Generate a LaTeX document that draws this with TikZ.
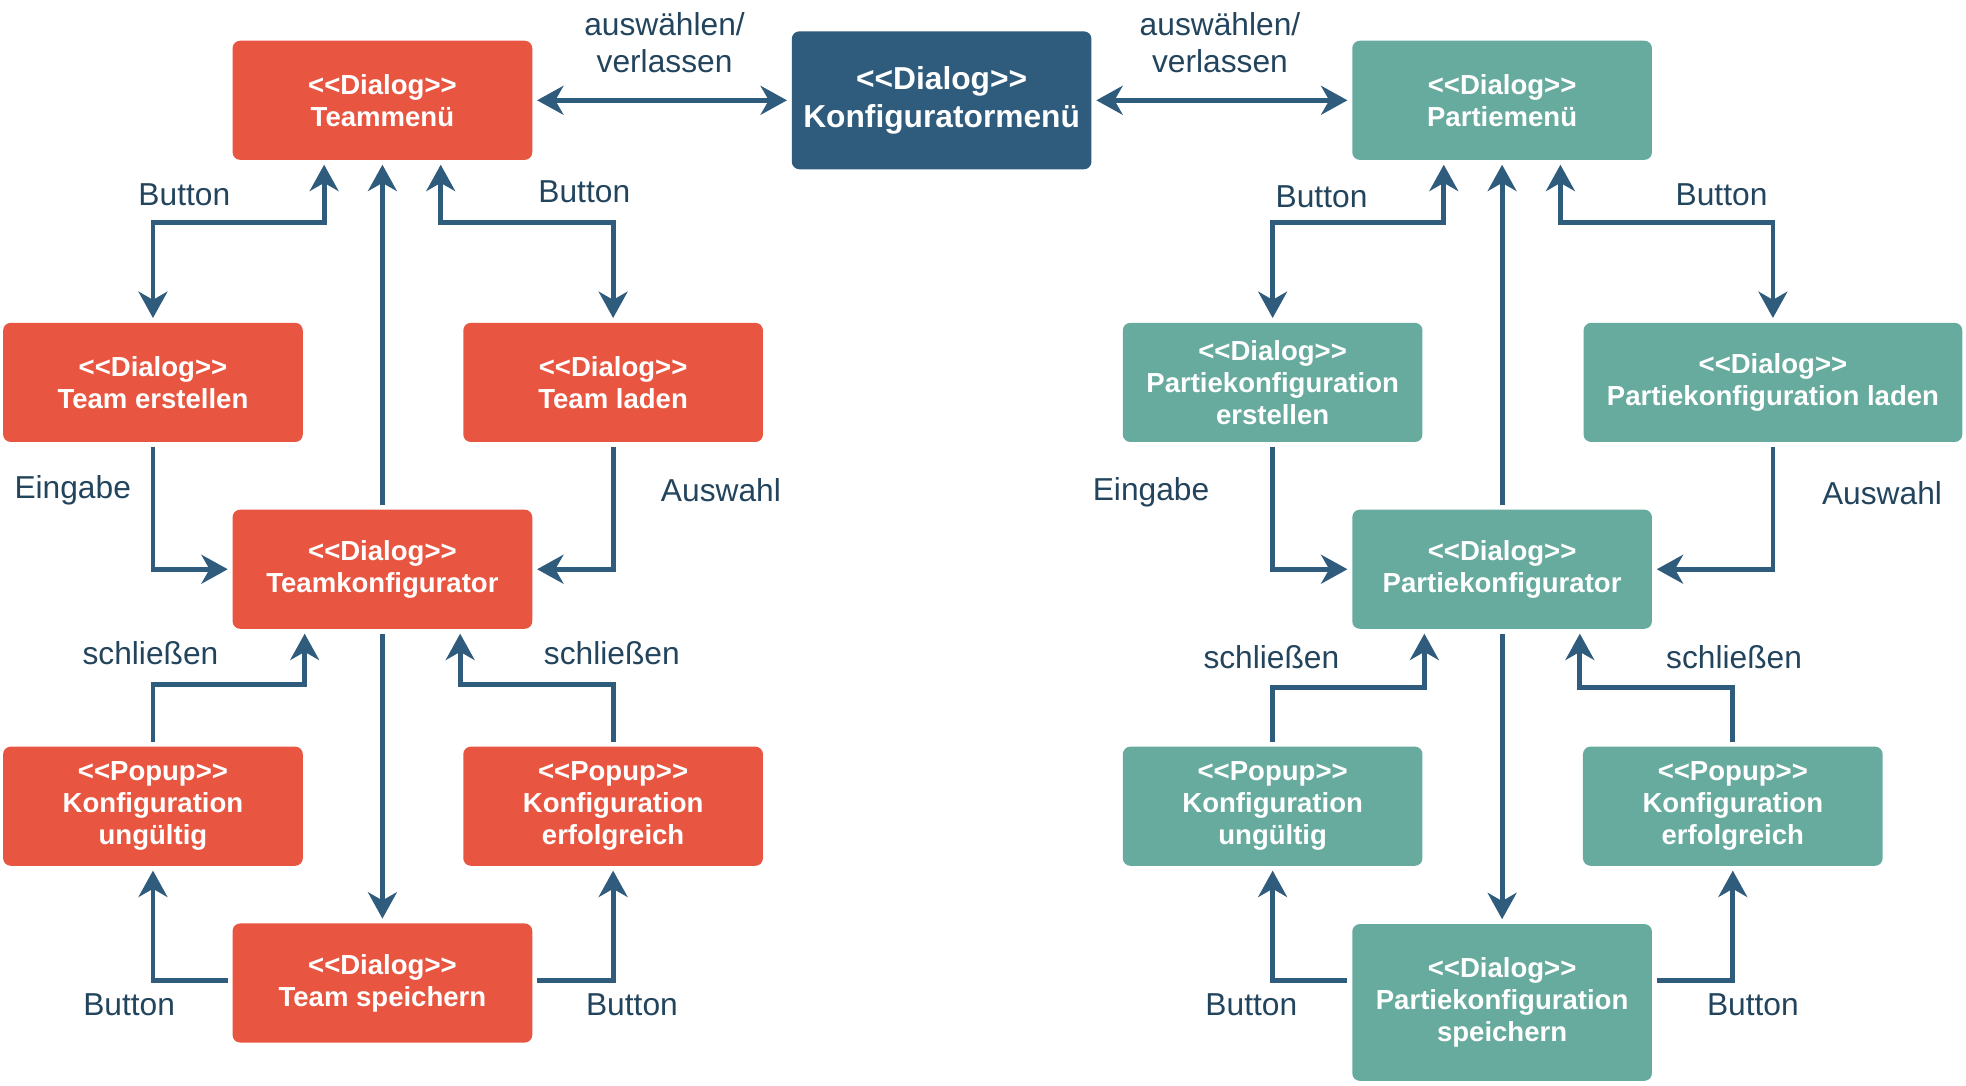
\documentclass[tikz,border=0pt]{standalone}
\usepackage{fontspec}
\setmainfont{Liberation Sans}[Ligatures=TeXOff]
\usetikzlibrary{arrows.meta}

\definecolor{teamred}{HTML}{E85641}
\definecolor{partieteal}{HTML}{67AB9F}
\definecolor{menublue}{HTML}{2F5B7C}
\definecolor{linkblue}{HTML}{2F5B7C}
\definecolor{labelblue}{HTML}{23445D}

\tikzset{
    box/.style={rectangle, rounded corners=0.12cm, minimum width=4.78cm, minimum height=1.9cm,
        align=center, text=white, font=\fontsize{12.5}{14.5}\selectfont\bfseries, inner sep=2pt},
    teambox/.style={box, fill=teamred},
    partiebox/.style={box, fill=partieteal},
    menubox/.style={box, fill=menublue, minimum height=2.2cm, font=\fontsize{14.4}{17}\selectfont\bfseries},
    lbl/.style={text=labelblue, align=center, font=\fontsize{14.4}{16.5}\selectfont},
    link/.style={draw=linkblue, line width=2.2pt, shorten <=2pt, shorten >=2pt,
        -{Stealth[length=0.42cm,width=0.46cm,inset=0.13cm]}},
    dlink/.style={link, {Stealth[length=0.42cm,width=0.46cm,inset=0.13cm]}-{Stealth[length=0.42cm,width=0.46cm,inset=0.13cm]}}
}

\begin{document}
\begin{tikzpicture}

    \useasboundingbox (0,0) rectangle (31.36,-17.32);

    % Menus
    \node[teambox] (tmenu) at (6.10,-1.60) {<<Dialog>>\\Teammenü};
    \node[menubox] (kmenu) at (15.02,-1.60) {<<Dialog>>\\Konfiguratormenü};
    \node[partiebox] (pmenu) at (23.96,-1.60) {<<Dialog>>\\Partiemenü};

    % Team dialogs
    \node[teambox] (terst) at (2.44,-6.10) {<<Dialog>>\\Team erstellen};
    \node[teambox] (tlad) at (9.78,-6.10) {<<Dialog>>\\Team laden};
    \node[teambox] (tkonf) at (6.10,-9.08) {<<Dialog>>\\Teamkonfigurator};
    \node[teambox] (tung) at (2.44,-12.86) {<<Popup>>\\Konfiguration\\ungültig};
    \node[teambox] (terf) at (9.78,-12.86) {<<Popup>>\\Konfiguration\\erfolgreich};
    \node[teambox] (tspei) at (6.10,-15.68) {<<Dialog>>\\Team speichern};

    % Partie dialogs
    \node[partiebox] (perst) at (20.30,-6.10) {<<Dialog>>\\Partiekonfiguration\\erstellen};
    \node[partiebox, minimum width=6.04cm] (plad) at (28.28,-6.10) {<<Dialog>>\\Partiekonfiguration laden};
    \node[partiebox] (pkonf) at (23.96,-9.08) {<<Dialog>>\\Partiekonfigurator};
    \node[partiebox] (pung) at (20.30,-12.86) {<<Popup>>\\Konfiguration\\ungültig};
    \node[partiebox] (perf) at (27.64,-12.86) {<<Popup>>\\Konfiguration\\erfolgreich};
    \node[partiebox, minimum height=2.5cm] (pspei) at (23.96,-15.99) {<<Dialog>>\\Partiekonfiguration\\speichern};

    % Switching between menus
    \draw[dlink] (tmenu.east) -- (kmenu.west);
    \draw[dlink] (kmenu.east) -- (pmenu.east -| pmenu.west);
    \node[lbl] (lwahl1) at (10.60,-0.68) {auswählen/\\verlassen};
    \node[lbl] (lwahl2) at (19.46,-0.68) {auswählen/\\verlassen};

    % Team side
    \draw[dlink] ([xshift=-0.93cm]tmenu.south) -- ++(0,-0.99) -| (terst.north);
    \draw[dlink] ([xshift=0.93cm]tmenu.south) -- ++(0,-0.99) -| (tlad.north);
    \draw[link] (tkonf.north) -- (tmenu.south);
    \draw[link] (terst.south) |- (tkonf.west);
    \draw[link] (tlad.south) |- (tkonf.east);
    \draw[link] (tung.north) -- ++(0,0.98) -| ([xshift=-1.24cm]tkonf.south);
    \draw[link] (terf.north) -- ++(0,0.98) -| ([xshift=1.24cm]tkonf.south);
    \draw[link] (tkonf.south) -- (tspei.north);
    \draw[link] ([yshift=0.04cm]tspei.west) -| (tung.south);
    \draw[link] ([yshift=0.04cm]tspei.east) -| (terf.south);

    \node[lbl] (lbtn1) at (2.94,-3.10) {Button};
    \node[lbl] (lbtn2) at (9.32,-3.06) {Button};
    \node[lbl] (lein1) at (1.16,-7.82) {Eingabe};
    \node[lbl] (laus1) at (11.50,-7.82) {Auswahl};
    \node[lbl] (lsch1) at (2.40,-10.42) {schließen};
    \node[lbl] (lsch2) at (9.76,-10.42) {schließen};
    \node[lbl] (lbtn3) at (2.06,-16.02) {Button};
    \node[lbl] (lbtn4) at (10.08,-16.02) {Button};

    % Partie side
    \draw[dlink] ([xshift=-0.93cm]pmenu.south) -- ++(0,-0.99) -| (perst.north);
    \draw[dlink] ([xshift=0.93cm]pmenu.south) -- ++(0,-0.99) -| (plad.north);
    \draw[link] (pkonf.north) -- (pmenu.south);
    \draw[link] (perst.south) |- (pkonf.west);
    \draw[link] (plad.south) |- (pkonf.east);
    \draw[link] (pung.north) -- ++(0,0.94) -| ([xshift=-1.24cm]pkonf.south);
    \draw[link] (perf.north) -- ++(0,0.94) -| ([xshift=1.24cm]pkonf.south);
    \draw[link] (pkonf.south) -- (pspei.north);
    \draw[link] ([yshift=0.35cm]pspei.west) -| (pung.south);
    \draw[link] ([yshift=0.35cm]pspei.east) -| (perf.south);

    \node[lbl] (lbtn5) at (21.08,-3.14) {Button};
    \node[lbl] (lbtn6) at (27.46,-3.10) {Button};
    \node[lbl] (lein2) at (18.36,-7.86) {Eingabe};
    \node[lbl] (laus2) at (30.02,-7.86) {Auswahl};
    \node[lbl] (lsch3) at (20.28,-10.48) {schließen};
    \node[lbl] (lsch4) at (27.66,-10.48) {schließen};
    \node[lbl] (lbtn7) at (19.96,-16.02) {Button};
    \node[lbl] (lbtn8) at (27.96,-16.02) {Button};

\end{tikzpicture}
\end{document}
